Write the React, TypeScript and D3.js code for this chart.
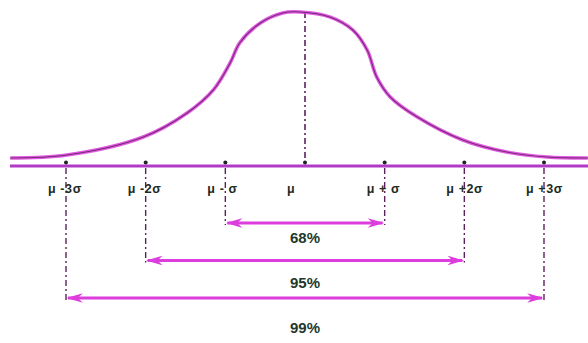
import React from "react";
import * as d3 from "d3";

// positions along the axis, in standard deviations from the mean
const sigmaSteps = [-3, -2, -1, 0, 1, 2, 3];
const tickLabels = ["μ -3σ", "μ -2σ", "μ - σ", "μ", "μ + σ", "μ +2σ", "μ +3σ"];

// bell curve (z in σ units, height relative to peak)
const curveZ = [-3.7, -2.99, -2.03, -1.48, -1.15, -0.94, -0.82, -0.56, -0.28, -0.06, 0.31, 0.6, 0.78, 0.9, 1.07, 1.41, 1.98, 2.53, 3.04, 3.55];
const curveHeight = [0.052, 0.071, 0.188, 0.344, 0.494, 0.669, 0.799, 0.929, 0.994, 1.0, 0.968, 0.883, 0.753, 0.578, 0.448, 0.318, 0.169, 0.091, 0.058, 0.052];

// coverage ranges: ±k σ and the share of values inside
const coverageK = [1, 2, 3];
const coverageLabels = ["68%", "95%", "99%"];

const W = 588;
const H = 343;
const MAGENTA = "#dc3ddc";
const LINE = "#b23ac8";
const DASH = "#5c215c";

export default function App() {
  const x = d3.scaleLinear().domain([-3, 3]).range([66, 544]);
  const y = d3.scaleLinear().domain([0, 1]).range([166, 12]);
  const arrowY = d3.scalePoint<string>().domain(coverageLabels).range([223, 298]);
  const textY = d3.scalePoint<string>().domain(coverageLabels).range([237, 327]);

  const pts: [number, number][] = curveZ.map((z, i) => [z, curveHeight[i]]);
  const line = d3
    .line<[number, number]>()
    .x((d) => x(d[0]))
    .y((d) => y(d[1]))
    .curve(d3.curveCatmullRom.alpha(0.5));
  const pathD = line(pts) || "";

  const axisY = y(0);

  return (
    <svg
      width={W}
      height={H}
      viewBox={`0 0 ${W} ${H}`}
      style={{ position: "absolute", left: 0, top: 0, background: "#fff" }}
    >
      <defs>
        <marker id="head" viewBox="0 0 10 10" refX="9" refY="5" markerWidth="5.5" markerHeight="3.2" preserveAspectRatio="none" orient="auto-start-reverse">
          <path d="M0,0 L10,5 L0,10 L3,5 Z" fill={MAGENTA} />
        </marker>
      </defs>

      {/* vertical dash-dot guides */}
      <line x1={x(0)} x2={x(0)} y1={y(1)} y2={axisY} stroke={DASH} strokeWidth={1.6} strokeDasharray="6 3 2 3" />
      {coverageK.map((k, i) => {
        const yb = arrowY(coverageLabels[i])! + 2;
        return (
          <g key={k}>
            <line x1={x(-k)} x2={x(-k)} y1={axisY + 2} y2={yb} stroke={DASH} strokeWidth={1.4} strokeDasharray="6 3 2 3" />
            <line x1={x(k)} x2={x(k)} y1={axisY + 2} y2={yb} stroke={DASH} strokeWidth={1.4} strokeDasharray="6 3 2 3" />
          </g>
        );
      })}

      {/* axis */}
      <line x1={10} x2={W} y1={axisY} y2={axisY} stroke={LINE} strokeWidth={2.8} />

      {/* curve */}
      <path d={pathD} fill="none" stroke={MAGENTA} strokeWidth={3.6} opacity={0.85} />
      <path d={pathD} fill="none" stroke="#7a2a7a" strokeWidth={1.1} />

      {/* tick dots */}
      {sigmaSteps.map((s) => (
        <circle key={s} cx={x(s)} cy={axisY - 3.5} r={2} fill="#222" />
      ))}

      {/* tick labels */}
      {sigmaSteps.map((s, i) => (
        <text
          key={"t" + s}
          x={x(s) - 18}
          y={193}
          fontFamily="Liberation Sans, Arial, sans-serif"
          fontWeight="bold"
          fontSize={12.5}
          letterSpacing={0.6}
          fill="#1e2a22"
        >
          {tickLabels[i]}
        </text>
      ))}

      {/* coverage arrows */}
      {coverageK.map((k, i) => {
        const ya = arrowY(coverageLabels[i])!;
        return (
          <g key={"a" + k}>
            <line
              x1={x(-k) + 2}
              x2={x(k) - 2}
              y1={ya}
              y2={ya}
              stroke={MAGENTA}
              strokeWidth={3}
              markerStart="url(#head)"
              markerEnd="url(#head)"
            />
            <text
              x={x(0)}
              y={textY(coverageLabels[i])! + 5.5}
              textAnchor="middle"
              fontFamily="Liberation Sans, Arial, sans-serif"
              fontWeight="bold"
              fontSize={15}
              fill="#22382a"
            >
              {coverageLabels[i]}
            </text>
          </g>
        );
      })}
    </svg>
  );
}
